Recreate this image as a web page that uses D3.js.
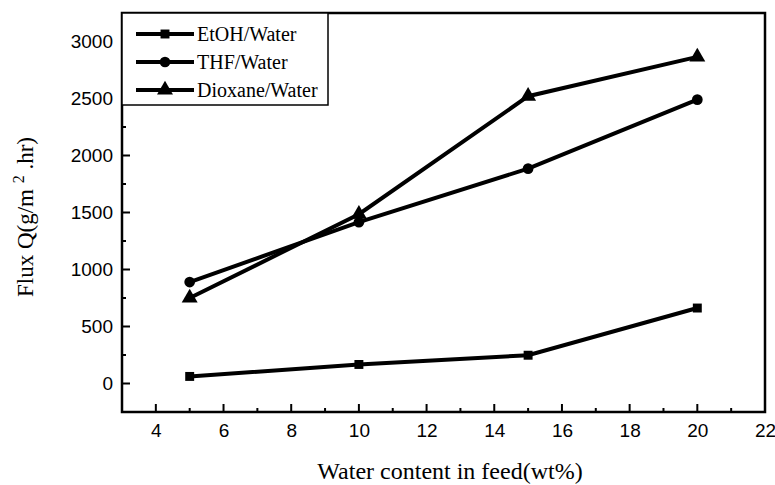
<!DOCTYPE html>
<html><head><meta charset="utf-8">
<script src="https://cdn.jsdelivr.net/npm/d3@7"></script>
<style>body{margin:0;background:#fff}</style>
</head><body>
<svg id="c" width="775" height="485"></svg>
<script>
const xValues = [5, 10, 15, 20];
const etoh = [62, 167, 248, 662];
const thf = [890, 1415, 1885, 2490];
const dioxane = [750, 1485, 2520, 2865];
const seriesNames = ["EtOH/Water", "THF/Water", "Dioxane/Water"];
const xTicks = [4, 6, 8, 10, 12, 14, 16, 18, 20, 22];
const yTicks = [0, 500, 1000, 1500, 2000, 2500, 3000];

const svg = d3.select("#c");
const L = 122, R = 765, T = 13, B = 412;
const x = d3.scaleLinear().domain([3, 22]).range([L, R]);
const y = d3.scaleLinear().domain([-250, 3250]).range([B, T]);
const sans = "'Liberation Sans', Arial, sans-serif";
const serif = "'Liberation Serif', 'Times New Roman', serif";

// ticks (inward)
const g = svg.append("g");
d3.range(4, 22, 1).forEach(v => {
  const major = v % 2 === 0;
  g.append("line").attr("x1", x(v)).attr("x2", x(v)).attr("y1", B).attr("y2", B - (major ? 8 : 4))
   .attr("stroke", "#000").attr("stroke-width", 2);
});
d3.range(0, 3250, 250).forEach(v => {
  const major = v % 500 === 0;
  g.append("line").attr("y1", y(v)).attr("y2", y(v)).attr("x1", L).attr("x2", L + (major ? 8 : 4))
   .attr("stroke", "#000").attr("stroke-width", 2);
});

const xAxis = svg.append("g").attr("transform", `translate(0,${B})`)
  .call(d3.axisBottom(x).tickValues(xTicks).tickSize(0).tickPadding(12).tickFormat(d3.format("d")));
xAxis.select(".domain").remove();
xAxis.selectAll("text").style("font-family", sans).style("font-size", "19px").attr("fill", "#000");
const yAxis = svg.append("g").attr("transform", `translate(${L},0)`)
  .call(d3.axisLeft(y).tickValues(yTicks).tickSize(0).tickPadding(9).tickFormat(d3.format("d")));
yAxis.select(".domain").remove();
yAxis.selectAll("text").style("font-family", sans).style("font-size", "19px").attr("fill", "#000");

// frame
svg.append("rect").attr("x", L).attr("y", T).attr("width", R - L).attr("height", B - T)
  .attr("fill", "none").attr("stroke", "#000").attr("stroke-width", 2.5);

// series
const data = [etoh, thf, dioxane];
const shapes = [d3.symbolSquare, d3.symbolCircle, d3.symbolTriangle];
const sizes = [80, 90, 110];
const line = d3.line().x((d, i) => x(xValues[i])).y(d => y(d));
data.forEach((s, k) => {
  svg.append("path").attr("d", line(s)).attr("fill", "none").attr("stroke", "#000").attr("stroke-width", 4);
  s.forEach((v, i) => {
    svg.append("path").attr("d", d3.symbol().type(shapes[k]).size(sizes[k])())
      .attr("transform", `translate(${x(xValues[i])},${y(v)})`).attr("fill", "#000");
  });
});

// legend
svg.append("rect").attr("x", L).attr("y", T).attr("width", 206).attr("height", 92)
  .attr("fill", "#fff").attr("stroke", "#000").attr("stroke-width", 1.5);
seriesNames.forEach((n, k) => {
  const ly = 34 + k * 28;
  svg.append("line").attr("x1", 136).attr("x2", 194).attr("y1", ly).attr("y2", ly).attr("stroke", "#000").attr("stroke-width", 4);
  svg.append("path").attr("d", d3.symbol().type(shapes[k]).size(sizes[k])())
    .attr("transform", `translate(165,${ly})`).attr("fill", "#000");
  svg.append("text").attr("x", 197).attr("y", ly + 6.5).text(n)
    .style("font-family", serif).style("font-size", "20px");
});

// axis titles
svg.append("text").attr("x", 450).attr("y", 479).attr("text-anchor", "middle")
  .style("font-family", serif).style("font-size", "24px").text("Water content in feed(wt%)");
const yt = svg.append("text").attr("transform", "translate(33,217) rotate(-90)").attr("text-anchor", "middle")
  .style("font-family", serif).style("font-size", "23px");
yt.append("tspan").text("Flux Q(g/m ");
yt.append("tspan").attr("dy", -9).style("font-size", "16px").text("2");
yt.append("tspan").attr("dy", 9).text(" .hr)");
</script>
</body></html>
